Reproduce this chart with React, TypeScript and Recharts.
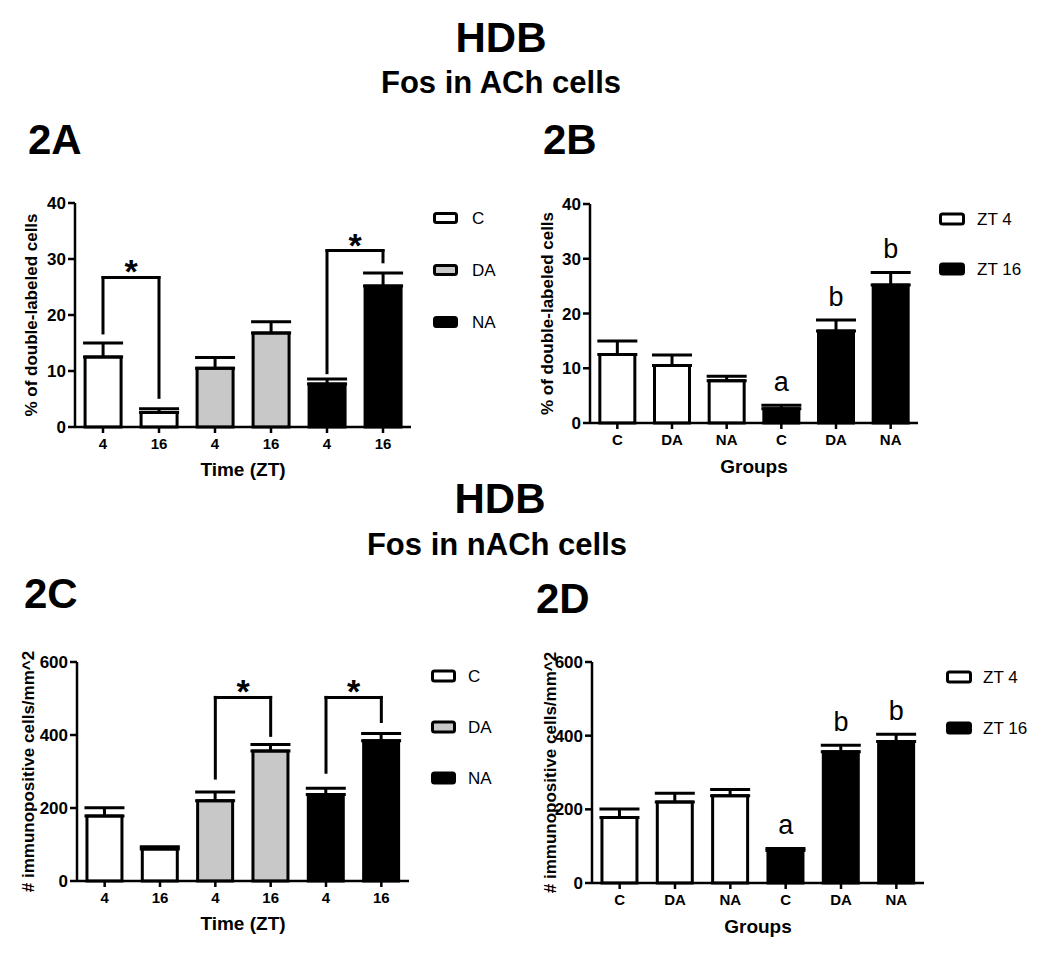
import React from 'react';
import {
  BarChart,
  Bar,
  XAxis,
  YAxis,
  ErrorBar,
  Cell,
  ReferenceLine,
  ReferenceDot,
} from 'recharts';

const FONT = 'Arial, "Liberation Sans", Helvetica, sans-serif';
const GRAY = '#c8c8c8';

// ---------- data ----------
// Time-ordered categories (panels 2A / 2C)
const timeKeys = ['C4', 'C16', 'DA4', 'DA16', 'NA4', 'NA16'];
const timeTicks = ['4', '16', '4', '16', '4', '16'];
const timeFills = ['#ffffff', '#ffffff', GRAY, GRAY, '#000000', '#000000'];

// Group-ordered categories (panels 2B / 2D)
const groupKeys = ['C4', 'DA4', 'NA4', 'C16', 'DA16', 'NA16'];
const groupTicks = ['C', 'DA', 'NA', 'C', 'DA', 'NA'];
const groupFills = ['#ffffff', '#ffffff', '#ffffff', '#000000', '#000000', '#000000'];
const groupLetters = ['', '', '', 'a', 'b', 'b'];

// Fos in ACh cells: % of double-labeled cells (in timeKeys order)
const pctMean = [12.5, 2.6, 10.5, 16.8, 7.7, 25.2];
const pctSem = [2.5, 0.65, 1.9, 2.0, 0.85, 2.3];

// Fos in nACh cells: # immunopositive cells/mm^2 (in timeKeys order)
const densMean = [178, 88, 220, 356, 237, 384];
const densSem = [23, 6, 24, 18, 17, 20];

// significance brackets (data units)
const pctBrackets = [
  { from: 'C4', to: 'C16', top: 26.7, fromEnd: 16.8, toEnd: 5.3 },
  { from: 'NA4', to: 'NA16', top: 31.5, fromEnd: 9.7, toEnd: 29.5 },
];
const densBrackets = [
  { from: 'DA4', to: 'DA16', top: 503, fromEnd: 282, toEnd: 399 },
  { from: 'NA4', to: 'NA16', top: 503, fromEnd: 298, toEnd: 437 },
];

const timeLegend = ['C', 'DA', 'NA'];
const timeLegendFills = ['#ffffff', GRAY, '#000000'];
const groupLegend = ['ZT 4', 'ZT 16'];
const groupLegendFills = ['#ffffff', '#000000'];

const pctTicks = [0, 10, 20, 30, 40];
const densTicks = [0, 200, 400, 600];

// ---------- helpers ----------
function buildData(keys: string[], ticks: string[], fills: string[], mean: number[], sem: number[], letters?: string[]) {
  return keys.map((k, i) => {
    const src = timeKeys.indexOf(k);
    return {
      key: k,
      tick: ticks[i],
      fill: fills[i],
      mean: mean[src],
      err: [0, sem[src]],
      top: mean[src] + sem[src],
      letter: letters ? letters[i] : '',
    };
  });
}

type PanelProps = {
  data: any[];
  left: number;
  top: number;
  width: number;
  height: number;
  margin: { top: number; right: number; bottom: number; left: number };
  yAxisWidth: number;
  xAxisHeight: number;
  domain: [number, number];
  yTicks: number[];
  yLabel: string;
  xLabel: string;
  xLabelDy: number;
  yLabelX: number;
  brackets?: { from: string; to: string; top: number; fromEnd: number; toEnd: number }[];
};

const starLabel = (props: any) => {
  const vb = props.viewBox || {};
  return (
    <text
      x={vb.x + vb.width / 2}
      y={vb.y + 6}
      textAnchor="middle"
      fontFamily={FONT}
      fontWeight="bold"
      fontSize={34}
      fill="#000"
    >
      *
    </text>
  );
};

const letterLabel = (letter: string) => (props: any) => {
  const vb = props.viewBox || {};
  return (
    <text
      x={vb.x + vb.width / 2}
      y={vb.y - 13}
      textAnchor="middle"
      fontFamily={FONT}
      fontSize={27}
      fill="#000"
    >
      {letter}
    </text>
  );
};

function Panel(p: PanelProps) {
  const tickMap: Record<string, string> = {};
  p.data.forEach((d) => (tickMap[d.key] = d.tick));
  const line = { stroke: '#000', strokeWidth: 3, strokeLinecap: 'square' as const };
  return (
    <div style={{ position: 'absolute', left: p.left, top: p.top }}>
      <BarChart
        width={p.width}
        height={p.height}
        data={p.data}
        margin={p.margin}
        barCategoryGap="18%"
      >
        <XAxis
          dataKey="key"
          interval={0}
          height={p.xAxisHeight}
          tickFormatter={(v: string) => tickMap[v]}
          tick={{ fill: '#000', fontSize: 15, fontWeight: 'bold', fontFamily: FONT }}
          tickSize={6}
          tickMargin={5}
          tickLine={{ stroke: '#000', strokeWidth: 2.5 }}
          axisLine={{ stroke: '#000', strokeWidth: 2.5 }}
          label={(props: any) => {
            const vb = props.viewBox || {};
            return (
              <text
                x={vb.x + vb.width / 2}
                y={vb.y + p.xLabelDy}
                textAnchor="middle"
                fontFamily={FONT}
                fontWeight="bold"
                fontSize={19}
                fill="#000"
              >
                {p.xLabel}
              </text>
            );
          }}
        />
        <YAxis
          type="number"
          domain={p.domain}
          ticks={p.yTicks}
          interval={0}
          width={p.yAxisWidth}
          tick={{ fill: '#000', fontSize: 17, fontWeight: 'bold', fontFamily: FONT }}
          tickSize={7}
          tickMargin={2}
          tickLine={{ stroke: '#000', strokeWidth: 2.5 }}
          axisLine={{ stroke: '#000', strokeWidth: 2.5 }}
          label={(props: any) => {
            const vb = props.viewBox || {};
            const cx = vb.x + p.yLabelX;
            const cy = vb.y + vb.height / 2;
            return (
              <text
                x={cx}
                y={cy}
                transform={`rotate(-90 ${cx} ${cy})`}
                textAnchor="middle"
                dominantBaseline="central"
                fontFamily={FONT}
                fontWeight="bold"
                fontSize={17}
                fill="#000"
              >
                {p.yLabel}
              </text>
            );
          }}
        />
        <Bar dataKey="mean" isAnimationActive={false} stroke="#000" strokeWidth={3}>
          {p.data.map((d) => (
            <Cell key={d.key} fill={d.fill} />
          ))}
          <ErrorBar dataKey="err" width={20} strokeWidth={3} stroke="#000" direction="y" />
        </Bar>
        {(p.brackets || []).map((b, i) => (
          <ReferenceLine
            key={`h${i}`}
            segment={[
              { x: b.from, y: b.top },
              { x: b.to, y: b.top },
            ]}
            {...line}
            label={starLabel}
          />
        ))}
        {(p.brackets || []).map((b, i) => (
          <ReferenceLine
            key={`l${i}`}
            segment={[
              { x: b.from, y: b.top },
              { x: b.from, y: b.fromEnd },
            ]}
            {...line}
          />
        ))}
        {(p.brackets || []).map((b, i) => (
          <ReferenceLine
            key={`r${i}`}
            segment={[
              { x: b.to, y: b.top },
              { x: b.to, y: b.toEnd },
            ]}
            {...line}
          />
        ))}
        {p.data
          .filter((d) => d.letter)
          .map((d) => (
            <ReferenceDot
              key={`t${d.key}`}
              x={d.key}
              y={d.top}
              r={1}
              fill="none"
              stroke="none"
              label={letterLabel(d.letter)}
            />
          ))}
      </BarChart>
    </div>
  );
}

function LegendBlock({
  items,
  fills,
  boxX,
  boxW,
  boxH,
  textX,
  rows,
}: {
  items: string[];
  fills: string[];
  boxX: number;
  boxW: number;
  boxH: number;
  textX: number;
  rows: number[];
}) {
  return (
    <g>
      {items.map((it, i) => (
        <g key={it}>
          <rect
            x={boxX + 1.5}
            y={rows[i] - boxH / 2 + 1.5}
            width={boxW - 3}
            height={boxH - 3}
            rx={2}
            fill={fills[i]}
            stroke="#000"
            strokeWidth={3}
          />
          <text x={textX} y={rows[i] + 6} fontFamily={FONT} fontSize={17} fill="#000">
            {it}
          </text>
        </g>
      ))}
    </g>
  );
}

export default function App() {
  const dataA = buildData(timeKeys, timeTicks, timeFills, pctMean, pctSem);
  const dataB = buildData(groupKeys, groupTicks, groupFills, pctMean, pctSem, groupLetters);
  const dataC = buildData(timeKeys, timeTicks, timeFills, densMean, densSem);
  const dataD = buildData(groupKeys, groupTicks, groupFills, densMean, densSem, groupLetters);

  const titleStyle = { fontFamily: FONT, fontWeight: 'bold' as const, fill: '#000' };

  return (
    <div
      style={{
        position: 'absolute',
        left: 0,
        top: 0,
        width: 1050,
        height: 955,
        background: '#fff',
        overflow: 'hidden',
      }}
    >
      <Panel
        data={dataA}
        left={0}
        top={180}
        width={520}
        height={300}
        margin={{ top: 23, right: 109, bottom: 0, left: 0 }}
        yAxisWidth={75}
        xAxisHeight={53}
        domain={[0, 40]}
        yTicks={pctTicks}
        yLabel="% of double-labeled cells"
        xLabel="Time (ZT)"
        xLabelDy={49}
        yLabelX={31}
        brackets={pctBrackets}
      />
      <Panel
        data={dataB}
        left={520}
        top={180}
        width={530}
        height={300}
        margin={{ top: 24, right: 132, bottom: 0, left: 0 }}
        yAxisWidth={70}
        xAxisHeight={57}
        domain={[0, 40]}
        yTicks={pctTicks}
        yLabel="% of double-labeled cells"
        xLabel="Groups"
        xLabelDy={50}
        yLabelX={27}
      />
      <Panel
        data={dataC}
        left={0}
        top={640}
        width={520}
        height={310}
        margin={{ top: 22, right: 111, bottom: 0, left: 0 }}
        yAxisWidth={77}
        xAxisHeight={69}
        domain={[0, 600]}
        yTicks={densTicks}
        yLabel="# immunopositive cells/mm^2"
        xLabel="Time (ZT)"
        xLabelDy={49}
        yLabelX={28}
        brackets={densBrackets}
      />
      <Panel
        data={dataD}
        left={520}
        top={640}
        width={530}
        height={310}
        margin={{ top: 22, right: 126, bottom: 0, left: 0 }}
        yAxisWidth={72}
        xAxisHeight={67}
        domain={[0, 600]}
        yTicks={densTicks}
        yLabel="# immunopositive cells/mm^2"
        xLabel="Groups"
        xLabelDy={49.5}
        yLabelX={30}
      />
      <svg
        width={1050}
        height={955}
        style={{ position: 'absolute', left: 0, top: 0, pointerEvents: 'none' }}
      >
        <text x={501} y={52} textAnchor="middle" fontSize={42} {...titleStyle}>
          HDB
        </text>
        <text x={501} y={93} textAnchor="middle" fontSize={31} {...titleStyle}>
          Fos in ACh cells
        </text>
        <text x={28} y={154} fontSize={42} {...titleStyle}>
          2A
        </text>
        <text x={543} y={154} fontSize={42} {...titleStyle}>
          2B
        </text>
        <text x={500} y={513} textAnchor="middle" fontSize={42} {...titleStyle}>
          HDB
        </text>
        <text x={497} y={555} textAnchor="middle" fontSize={31} {...titleStyle}>
          Fos in nACh cells
        </text>
        <text x={24} y={608} fontSize={42} {...titleStyle}>
          2C
        </text>
        <text x={536} y={613} fontSize={42} {...titleStyle}>
          2D
        </text>

        <LegendBlock items={timeLegend} fills={timeLegendFills} boxX={433} boxW={25} boxH={12} textX={472} rows={[218, 270, 322]} />
        <LegendBlock items={groupLegend} fills={groupLegendFills} boxX={939} boxW={26} boxH={13} textX={977} rows={[219, 269]} />
        <LegendBlock items={timeLegend} fills={timeLegendFills} boxX={431} boxW={25} boxH={13} textX={468} rows={[676, 727, 778]} />
        <LegendBlock items={groupLegend} fills={groupLegendFills} boxX={946} boxW={26} boxH={13} textX={983} rows={[677, 728]} />
      </svg>
    </div>
  );
}
